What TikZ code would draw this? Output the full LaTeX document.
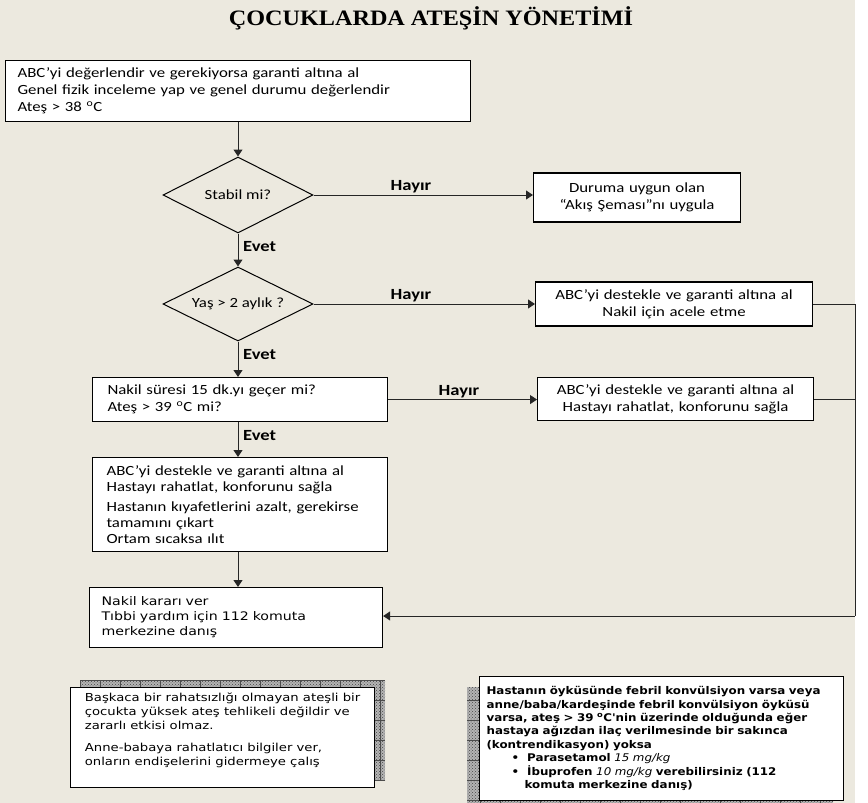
\documentclass[tikz,border=0pt]{standalone}
\usepackage{fontspec}
\setmainfont{Carlito}[FakeStretch=1.2]
\newfontfamily\vfont{DejaVu Sans}[FakeStretch=1.2]
\newfontfamily\rfont{DejaVu Sans}[FakeStretch=1.12]
\newfontfamily\tfont{Liberation Serif}[FakeStretch=1.1]
\usetikzlibrary{arrows.meta,shapes.geometric,patterns}
\definecolor{bgbeige}{RGB}{236,233,223}
\definecolor{shgray}{RGB}{180,180,180}
\tikzset{
  fbox/.style={draw=black, line width=1.1pt, fill=white, anchor=north west, inner ysep=0pt, font=\fontsize{14}{17}\selectfont},
  dia/.style={draw=black, line width=1pt, shape=diamond, shape aspect=2, fill=bgbeige, inner sep=0pt, font=\fontsize{14}{17}\selectfont},
  conn/.style={draw=black!85, line width=1pt},
  arr/.style={conn, -{Triangle[length=7pt,width=9pt]}},
  lbl/.style={font=\bfseries\fontsize{15.5}{17}\selectfont, inner sep=0pt},
  shadowbox/.style={fill=shgray},
  notebox/.style={draw=black, line width=1.1pt, fill=white, anchor=north west, inner ysep=0pt, align=left},
}
\begin{document}
\begin{tikzpicture}[x=1pt,y=-1pt]
\useasboundingbox (0,0) rectangle (868,803);
\fill[white] (0,0) rectangle (868,803);
\fill[bgbeige] (0,0) rectangle (855,803);

% title
\node[font=\tfont\bfseries\fontsize{22}{25}\selectfont, inner sep=0pt] (title) at (431,18) {ÇOCUKLARDA ATEŞİN YÖNETİMİ};

% boxes
\node[fbox, minimum width=465pt, minimum height=61pt, text width=441pt, inner xsep=12pt, align=left] (b1) at (5,60)
  {ABC’yi değerlendir ve gerekiyorsa garanti altına al\\Genel fizik inceleme yap ve genel durumu değerlendir\\Ateş > 38 \textsuperscript{o}C};

\node[dia, minimum width=150pt, minimum height=76pt] (d1) at (238,195) {Stabil mi?};
\node[dia, minimum width=150pt, minimum height=74pt] (d2) at (238,304) {Yaş > 2 aylık ?};

\node[fbox, anchor=west, minimum width=207pt, minimum height=49pt, text width=197pt, inner xsep=5pt, align=center] (bdur) at (533,197.5)
  {Duruma uygun olan\\“Akış Şeması”nı uygula};
\node[fbox, anchor=west, minimum width=277pt, minimum height=44pt, text width=267pt, inner xsep=5pt, align=center] (bacele) at (535,304)
  {ABC’yi destekle ve garanti altına al\\Nakil için acele etme};

\node[fbox, minimum width=295pt, minimum height=44pt, text width=265pt, inner xsep=15pt, align=left] (b3) at (92,377)
  {Nakil süresi 15 dk.yı geçer mi?\\Ateş > 39 \textsuperscript{o}C mi?};
\node[fbox, anchor=west, minimum width=276pt, minimum height=43pt, text width=266pt, inner xsep=5pt, align=center] (brah) at (537,399)
  {ABC’yi destekle ve garanti altına al\\Hastayı rahatlat, konforunu sağla};

\node[fbox, minimum width=295pt, minimum height=94pt, text width=267pt, inner xsep=14pt, align=left, font=\fontsize{14}{16}\selectfont] (b4) at (92,457)
  {ABC’yi destekle ve garanti altına al\\Hastayı rahatlat, konforunu sağla\\[4pt]Hastanın kıyafetlerini azalt, gerekirse\\tamamını çıkart\\Ortam sıcaksa ılıt};

\node[fbox, minimum width=293pt, minimum height=60pt, text width=269pt, inner xsep=12pt, align=left, font=\vfont\fontsize{11.8}{15}\selectfont] (b5) at (89,587)
  {Nakil kararı ver\\Tıbbi yardım için 112 komuta\\merkezine danış};

% connectors
\coordinate (rc) at (855,616);
\draw[arr] (b1.south -| d1.north) -- (d1.north);
\draw[arr] (d1.east) -- (d1.east -| bdur.west);
\draw[arr] (d1.south) -- (d2.north);
\draw[arr] (d2.east) -- (d2.east -| bacele.west);
\draw[arr] (d2.south) -- (d2.south |- b3.north);
\draw[arr] (b3.east) -- (b3.east -| brah.west);
\draw[arr] (b3.south -| d2.south) -- (b4.north -| d2.south);
\draw[arr] (b4.south -| d2.south) -- (b5.north -| d2.south);
\draw[conn] (bacele.east) -| (rc);
\draw[conn] (brah.east) -- (brah.east -| rc);
\draw[arr] (rc) -- (rc -| b5.east);

% labels
\node[lbl] (h1) at (411,187) {Hayır};
\node[lbl] (h2) at (411,296) {Hayır};
\node[lbl] (h3) at (459,392) {Hayır};
\node[lbl, anchor=west] (e1) at (243,247) {Evet};
\node[lbl, anchor=west] (e2) at (243,355) {Evet};
\node[lbl, anchor=west] (e3) at (243,436) {Evet};

% left note
\fill[shadowbox] (80,680) rectangle (385,780);
\fill[pattern=crosshatch dots, pattern color=gray!55!black] (80,680) rectangle (385,780);
\draw[gray!60!black, line width=0.4pt, step=20pt] (80,680) grid (385,780);
\node[notebox, minimum width=304pt, minimum height=100pt, inner xsep=4pt, font=\vfont\fontsize{11}{14}\selectfont] (ln) at (70,687)
  {Başkaca bir rahatsızlığı olmayan ateşli bir\\çocukta yüksek ateş tehlikeli değildir ve\\zararlı etkisi olmaz.\\[8pt]Anne-babaya rahatlatıcı bilgiler ver,\\onların endişelerini gidermeye çalış\\[2pt]};

% right note
\fill[shadowbox] (467,687) rectangle (833,803);
\fill[pattern=crosshatch dots, pattern color=gray!55!black] (467,687) rectangle (833,803);
\draw[gray!60!black, line width=0.4pt, step=20pt] (467,687) grid (833,803);
\node[notebox, minimum width=364pt, minimum height=124pt, text width=350pt, inner xsep=7pt, font=\rfont\bfseries\fontsize{10.6}{13.4}\selectfont] (rn) at (479,676)
  {Hastanın öyküsünde febril konvülsiyon varsa veya\\anne/baba/kardeşinde febril konvülsiyon öyküsü\\varsa, ateş > 39 \textsuperscript{o}C'nin üzerinde olduğunda eğer\\hastaya ağızdan ilaç verilmesinde bir sakınca\\(kontrendikasyon) yoksa\\
  \hspace*{25pt}\textbullet\hspace{8pt}Parasetamol {\mdseries\itshape 15 mg/kg}\\
  \hspace*{25pt}\textbullet\hspace{8pt}İbuprofen {\mdseries\itshape 10 mg/kg} verebilirsiniz (112\\
  \hspace*{38pt}komuta merkezine danış)};
\end{tikzpicture}
\end{document}
